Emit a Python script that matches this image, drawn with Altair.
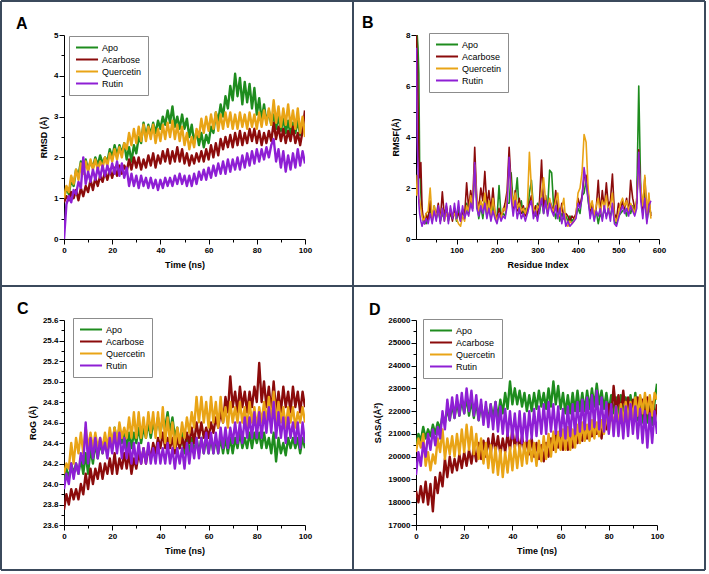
import altair as alt
import pandas as pd

FONT = "Liberation Sans"
SERIES = ["Apo", "Acarbose", "Quercetin", "Rutin"]
COLORS = ["#1e8c1e", "#8b0b0b", "#e9a416", "#8e1fd4"]
BORDER = "#3b4a5c"

# ---------------- tick values ----------------
time_ticks = [0, 10, 20, 30, 40, 50, 60, 70, 80, 90, 100]
residue_ticks = [50, 100, 150, 200, 250, 300, 350, 400, 450, 500, 550, 600]
rmsd_ticks = [0, 0.5, 1, 1.5, 2, 2.5, 3, 3.5, 4, 4.5, 5]
rmsf_ticks = [0, 1, 2, 3, 4, 5, 6, 7, 8]
rog_ticks = [23.6, 23.7, 23.8, 23.9, 24.0, 24.1, 24.2, 24.3, 24.4, 24.5, 24.6,
             24.7, 24.8, 24.9, 25.0, 25.1, 25.2, 25.3, 25.4, 25.5, 25.6]
sasa_ticks = [17000, 17500, 18000, 18500, 19000, 19500, 20000, 20500, 21000, 21500,
              22000, 22500, 23000, 23500, 24000, 24500, 25000, 25500, 26000]

# ---------------- A: RMSD ----------------
time_ns = list(range(0, 101))

rmsd_apo = [1.0, 1.25, 1.1, 1.45, 1.3, 1.7, 1.55, 1.9, 1.65, 1.95,
            1.7, 1.9, 1.75, 2.0, 1.8, 2.05, 1.85, 2.0, 1.9, 2.2,
            2.0, 2.3, 2.05, 2.3, 2.1, 2.35, 1.95, 2.25, 1.9, 2.3,
            2.1, 2.5, 2.35, 2.85, 2.5, 2.8, 2.55, 2.85, 2.6, 2.9,
            2.7, 3.0, 2.8, 3.15, 2.85, 3.25, 2.75, 3.0, 2.7, 3.05,
            2.7, 2.95, 2.5, 2.8, 2.35, 2.65, 2.3, 2.6, 2.25, 2.55,
            2.35, 2.75, 2.6, 3.1, 2.9, 3.3, 3.0, 3.5, 3.2, 3.75,
            3.4, 4.05, 3.5, 3.95, 3.3, 3.85, 3.35, 3.8, 3.2, 3.7,
            3.05, 3.45, 2.9, 3.3, 2.85, 3.15, 2.8, 3.05, 2.7, 3.0,
            2.65, 2.95, 2.6, 2.9, 2.55, 2.85, 2.6, 2.9, 2.55, 2.8,
            2.7]
rmsd_acarbose = [0.9, 1.05, 0.95, 1.15, 1.0, 1.2, 0.95, 1.25, 1.05, 1.3,
                 1.15, 1.45, 1.2, 1.5, 1.3, 1.55, 1.4, 1.65, 1.45, 1.7,
                 1.5, 1.75, 1.55, 1.8, 1.6, 1.8, 1.65, 1.95, 1.7, 2.0,
                 1.75, 2.0, 1.7, 1.95, 1.75, 2.05, 1.8, 2.1, 1.75, 2.05,
                 1.85, 2.15, 1.9, 2.2, 1.85, 2.15, 1.9, 2.25, 1.9, 2.2,
                 1.85, 2.1, 1.8, 2.05, 1.85, 2.1, 1.9, 2.15, 1.9, 2.2,
                 1.95, 2.3, 2.0, 2.35, 2.05, 2.45, 2.2, 2.5, 2.25, 2.55,
                 2.25, 2.6, 2.3, 2.65, 2.3, 2.6, 2.35, 2.7, 2.4, 2.7,
                 2.35, 2.65, 2.3, 2.6, 2.35, 2.65, 2.4, 2.85, 2.45, 2.75,
                 2.4, 2.7, 2.35, 2.65, 2.4, 2.75, 2.35, 2.6, 2.3, 2.65,
                 3.15]
rmsd_quercetin = [1.0, 1.3, 1.15, 1.55, 1.35, 1.7, 1.45, 1.85, 1.6, 1.9,
                  1.65, 1.95, 1.7, 1.95, 1.7, 1.9, 1.75, 2.0, 1.8, 2.1,
                  1.9, 2.2, 1.95, 2.25, 2.0, 2.35, 2.2, 2.6, 2.3, 2.7,
                  2.35, 2.75, 2.4, 2.8, 2.4, 2.75, 2.45, 2.8, 2.35, 2.7,
                  2.4, 2.8, 2.45, 2.85, 2.5, 2.9, 2.45, 2.8, 2.4, 2.75,
                  2.3, 2.6, 2.2, 2.5, 2.25, 2.7, 2.5, 2.95, 2.6, 3.0,
                  2.65, 3.05, 2.7, 3.1, 2.65, 3.05, 2.7, 3.1, 2.75, 3.1,
                  2.7, 3.05, 2.7, 3.1, 2.75, 3.05, 2.7, 3.1, 2.75, 3.05,
                  2.7, 3.1, 2.75, 3.15, 2.8, 3.2, 2.8, 3.4, 2.85, 3.25,
                  2.75, 3.2, 2.8, 3.3, 2.75, 3.15, 2.7, 3.2, 2.6, 3.0,
                  2.5]
rmsd_rutin = [0.0, 0.85, 1.05, 0.9, 1.2, 1.1, 1.4, 1.25, 2.0, 1.35,
              1.65, 1.4, 1.7, 1.45, 1.75, 1.5, 1.8, 1.55, 1.8, 1.6,
              1.85, 1.6, 1.9, 1.55, 1.85, 1.5, 1.75, 1.3, 1.6, 1.3,
              1.55, 1.25, 1.55, 1.3, 1.5, 1.25, 1.5, 1.25, 1.45, 1.2,
              1.45, 1.25, 1.5, 1.3, 1.5, 1.3, 1.55, 1.35, 1.6, 1.35,
              1.55, 1.3, 1.55, 1.3, 1.6, 1.35, 1.65, 1.45, 1.7, 1.45,
              1.75, 1.5, 1.8, 1.55, 1.85, 1.6, 1.9, 1.6, 1.95, 1.65,
              1.95, 1.7, 2.0, 1.7, 2.05, 1.75, 2.1, 1.8, 2.15, 1.85,
              2.2, 1.9, 2.2, 1.95, 2.25, 2.0, 2.3, 2.45, 1.9, 2.2,
              1.75, 2.15, 1.65, 2.05, 1.7, 2.1, 1.75, 2.2, 1.8, 2.15,
              1.85]

# ---------------- B: RMSF ----------------
residue_index = [1, 3, 5, 7, 9, 12, 15, 18, 21, 25,
                 30, 35, 40, 45, 50, 55, 60, 65, 70, 75,
                 80, 85, 90, 95, 100, 105, 110, 115, 120, 125,
                 130, 135, 140, 145, 150, 155, 160, 165, 170, 175,
                 180, 185, 190, 195, 200, 205, 210, 215, 220, 225,
                 230, 235, 240, 245, 250, 255, 260, 265, 270, 275,
                 280, 285, 290, 295, 300, 305, 310, 315, 320, 325,
                 330, 335, 340, 345, 350, 355, 360, 365, 370, 375,
                 380, 385, 390, 395, 400, 405, 410, 415, 420, 425,
                 430, 435, 440, 445, 450, 455, 460, 465, 470, 475,
                 480, 485, 490, 495, 500, 505, 510, 515, 520, 525,
                 530, 535, 540, 545, 550, 555, 560, 565, 570, 575,
                 580]
rmsf_apo = [7.9, 8.0, 7.5, 6.5, 3.0, 1.8, 1.0, 0.7, 0.8, 0.6,
            0.9, 1.2, 0.7, 1.3, 0.8, 1.1, 0.7, 1.0, 0.8, 1.2,
            0.7, 1.0, 0.8, 1.1, 0.7, 1.2, 0.8, 1.1, 0.9, 1.4,
            1.0, 1.5, 1.2, 2.6, 1.5, 0.8, 1.3, 0.8, 1.5, 0.9,
            1.4, 0.8, 1.3, 0.9, 0.8, 2.1, 0.9, 1.0, 0.9, 1.4,
            1.4, 2.6, 1.3, 1.6, 2.4, 1.0, 1.5, 0.9, 1.2, 1.0,
            1.8, 2.3, 1.2, 0.9, 1.4, 1.0, 1.6, 1.0, 1.4, 1.2,
            2.7, 2.6, 1.2, 0.8, 1.3, 0.7, 1.0, 0.8, 0.9, 0.7,
            0.9, 0.7, 0.8, 0.9, 1.2, 1.0, 1.7, 1.8, 2.3, 1.5,
            1.0, 1.3, 0.8, 1.1, 0.6, 1.0, 0.8, 1.2, 0.9, 1.1,
            0.9, 1.3, 0.7, 0.6, 0.9, 1.0, 1.1, 1.2, 0.9, 1.3,
            1.0, 1.3, 1.0, 1.5, 6.0, 1.8, 1.0, 1.8, 0.7, 1.2,
            1.0]
rmsf_acarbose = [8.0, 7.2, 5.3, 3.2, 2.4, 3.0, 1.2, 0.8, 0.6, 1.0,
                 0.7, 1.5, 0.8, 1.2, 0.9, 1.4, 0.7, 1.85, 0.9, 1.3,
                 0.8, 1.1, 0.7, 1.2, 0.9, 1.0, 0.7, 1.1, 0.9, 2.2,
                 1.2, 1.9, 1.4, 3.6, 1.6, 1.2, 2.0, 1.5, 2.65, 1.3,
                 1.9, 1.1, 2.0, 1.0, 0.8, 1.2, 0.9, 1.1, 1.4, 1.9,
                 3.6, 2.1, 1.2, 1.9, 1.1, 1.6, 1.0, 1.3, 0.9, 1.1,
                 1.4, 1.7, 1.0, 1.3, 0.9, 1.5, 3.1, 1.2, 1.7, 1.0,
                 1.5, 1.3, 1.0, 1.9, 1.1, 0.9, 1.4, 0.8, 1.0, 0.9,
                 0.7, 0.9, 0.8, 1.0, 1.6, 1.3, 1.7, 2.4, 2.5, 1.8,
                 1.1, 1.4, 0.9, 1.2, 2.3, 1.0, 1.9, 1.2, 2.2, 1.3,
                 1.5, 2.55, 1.0, 0.8, 1.4, 1.1, 1.5, 1.2, 1.6, 1.0,
                 2.3, 1.6, 1.2, 1.4, 3.5, 1.8, 1.2, 2.4, 1.0, 1.6,
                 0.9]
rmsf_quercetin = [1.7, 2.5, 1.8, 1.6, 1.5, 1.2, 0.9, 0.7, 0.8, 1.0,
                  1.1, 2.0, 0.8, 1.3, 0.9, 1.1, 0.8, 1.2, 0.7, 1.0,
                  0.8, 1.2, 0.9, 1.0, 0.8, 0.6, 0.5, 0.9, 0.7, 1.3,
                  1.1, 1.7, 1.3, 2.9, 1.6, 1.1, 1.5, 1.2, 1.8, 1.0,
                  1.5, 0.9, 1.6, 1.0, 0.7, 1.0, 0.8, 1.2, 1.1, 1.6,
                  2.9, 2.0, 1.3, 1.8, 1.2, 1.4, 1.1, 1.2, 1.0, 1.3,
                  3.4, 2.0, 1.2, 1.0, 1.3, 1.2, 1.8, 2.4, 1.5, 1.1,
                  1.6, 1.2, 1.1, 1.5, 1.8, 0.9, 1.2, 1.6, 0.6, 0.5,
                  0.7, 0.6, 0.7, 0.9, 1.8, 2.0, 2.6, 4.1, 3.8, 2.0,
                  1.2, 1.5, 0.9, 1.3, 1.6, 1.0, 1.5, 1.3, 1.7, 1.0,
                  1.3, 1.8, 0.8, 0.7, 1.0, 1.4, 1.6, 1.3, 1.5, 1.1,
                  1.4, 1.2, 1.0, 1.6, 2.8, 2.0, 1.3, 2.5, 1.0, 1.8,
                  0.8]
rmsf_rutin = [7.5, 3.8, 2.8, 1.4, 1.0, 0.7, 0.5, 0.7, 0.6, 0.8,
              0.6, 1.0, 0.6, 1.1, 0.7, 1.3, 0.6, 1.2, 0.7, 1.4,
              0.6, 1.3, 0.8, 1.4, 0.8, 1.5, 0.7, 1.3, 0.8, 1.1,
              0.9, 1.4, 1.1, 3.0, 1.2, 0.9, 1.3, 1.0, 1.4, 0.8,
              1.2, 0.7, 1.1, 0.8, 0.6, 1.0, 0.7, 0.9, 0.8, 1.3,
              3.2, 1.6, 0.9, 1.5, 0.8, 1.2, 0.8, 1.0, 0.7, 1.0,
              1.3, 1.5, 0.8, 1.1, 0.7, 1.2, 1.6, 1.0, 1.5, 0.9,
              1.4, 1.1, 0.9, 1.3, 0.8, 1.2, 0.6, 1.0, 0.5, 0.7,
              0.5, 0.6, 0.7, 0.8, 1.4, 1.2, 1.6, 2.8, 2.2, 1.6,
              0.8, 1.2, 0.7, 1.1, 0.9, 1.2, 0.7, 1.3, 0.8, 1.2,
              0.7, 1.4, 0.6, 0.5, 0.8, 1.1, 1.3, 1.0, 1.2, 0.9,
              1.3, 1.1, 0.9, 1.2, 3.4, 1.5, 0.8, 1.6, 0.6, 1.3,
              1.5]

# ---------------- C: RoG ----------------
rog_apo = [24.0, 24.15, 24.05, 24.2, 24.1, 24.2, 24.1, 24.25, 24.1, 24.3,
           24.1, 24.35, 24.2, 24.4, 24.25, 24.4, 24.3, 24.45, 24.3, 24.5,
           24.35, 24.55, 24.4, 24.55, 24.4, 24.5, 24.35, 24.5, 24.35, 24.5,
           24.4, 24.55, 24.4, 24.55, 24.45, 24.6, 24.45, 24.6, 24.5, 24.65,
           24.5, 24.65, 24.55, 24.7, 24.5, 24.65, 24.45, 24.55, 24.35, 24.5,
           24.3, 24.45, 24.3, 24.45, 24.3, 24.45, 24.3, 24.45, 24.3, 24.45,
           24.3, 24.45, 24.3, 24.45, 24.3, 24.45, 24.3, 24.45, 24.3, 24.45,
           24.3, 24.45, 24.35, 24.5, 24.35, 24.45, 24.35, 24.5, 24.35, 24.5,
           24.4, 24.5, 24.35, 24.5, 24.35, 24.45, 24.3, 24.5, 24.22, 24.45,
           24.3, 24.4, 24.28, 24.45, 24.35, 24.45, 24.35, 24.45, 24.3, 24.45,
           24.35]
rog_acarbose = [23.75, 23.9, 23.8, 23.95, 23.85, 23.95, 23.85, 24.0, 23.9, 24.1,
                23.95, 24.15, 24.0, 24.15, 24.05, 24.2, 24.05, 24.2, 24.1, 24.25,
                24.1, 24.3, 24.1, 24.25, 24.15, 24.3, 24.15, 24.3, 24.1, 24.25,
                24.15, 24.3, 24.2, 24.35, 24.2, 24.35, 24.25, 24.4, 24.3, 24.45,
                24.35, 24.5, 24.35, 24.45, 24.35, 24.45, 24.3, 24.45, 24.35, 24.45,
                24.35, 24.5, 24.4, 24.55, 24.4, 24.6, 24.45, 24.6, 24.45, 24.55,
                24.45, 24.6, 24.5, 24.65, 24.55, 24.7, 24.6, 24.85, 24.7, 25.05,
                24.75, 24.9, 24.7, 24.95, 24.75, 24.9, 24.7, 24.9, 24.75, 24.95,
                24.8, 25.18, 24.8, 25.0, 24.75, 24.95, 24.7, 25.0, 24.7, 24.9,
                24.7, 24.95, 24.75, 24.9, 24.7, 24.95, 24.75, 24.9, 24.7, 24.9,
                24.75]
rog_quercetin = [24.1, 24.2, 24.15, 24.4, 24.2, 24.45, 24.3, 24.5, 24.3, 24.55,
                 24.35, 24.5, 24.35, 24.5, 24.35, 24.45, 24.35, 24.5, 24.35, 24.55,
                 24.4, 24.55, 24.4, 24.6, 24.45, 24.55, 24.45, 24.65, 24.45, 24.7,
                 24.45, 24.7, 24.45, 24.65, 24.45, 24.7, 24.5, 24.7, 24.45, 24.7,
                 24.45, 24.75, 24.4, 24.65, 24.4, 24.6, 24.35, 24.55, 24.4, 24.6,
                 24.45, 24.65, 24.5, 24.7, 24.55, 24.85, 24.6, 24.85, 24.6, 24.8,
                 24.55, 24.85, 24.6, 24.8, 24.55, 24.85, 24.6, 24.75, 24.55, 24.8,
                 24.6, 24.75, 24.6, 24.8, 24.6, 24.75, 24.55, 24.8, 24.6, 24.75,
                 24.55, 24.75, 24.6, 24.8, 24.6, 24.85, 24.6, 24.9, 24.6, 24.8,
                 24.6, 24.75, 24.55, 24.75, 24.6, 24.75, 24.55, 24.7, 24.6, 24.75,
                 24.6]
rog_rutin = [23.95, 24.1, 24.0, 24.2, 24.05, 24.2, 24.1, 24.3, 24.2, 24.6,
             24.2, 24.45, 24.25, 24.45, 24.25, 24.45, 24.3, 24.4, 24.25, 24.45,
             24.3, 24.5, 24.3, 24.5, 24.25, 24.45, 24.25, 24.4, 24.2, 24.4,
             24.2, 24.4, 24.2, 24.35, 24.2, 24.4, 24.2, 24.35, 24.2, 24.4,
             24.2, 24.35, 24.2, 24.4, 24.2, 24.35, 24.15, 24.35, 24.2, 24.35,
             24.15, 24.4, 24.2, 24.4, 24.25, 24.45, 24.25, 24.45, 24.3, 24.5,
             24.3, 24.5, 24.3, 24.5, 24.3, 24.55, 24.35, 24.55, 24.35, 24.55,
             24.4, 24.6, 24.4, 24.6, 24.4, 24.65, 24.45, 24.65, 24.45, 24.7,
             24.45, 24.7, 24.45, 24.7, 24.5, 24.75, 24.5, 24.8, 24.45, 24.7,
             24.45, 24.65, 24.4, 24.65, 24.45, 24.6, 24.4, 24.6, 24.35, 24.6,
             24.4]

# ---------------- D: SASA ----------------
sasa_apo = [20500, 21000, 20700, 21300, 20800, 21200, 20900, 21400, 21000, 21500,
            21200, 21800, 21500, 22100, 21600, 22300, 21700, 22400, 21800, 22500,
            21900, 22600, 21800, 22500, 21700, 22400, 21600, 22300, 21600, 22200,
            21600, 22300, 21700, 22400, 21700, 22500, 21900, 22800, 22100, 23300,
            22300, 23000, 22300, 22900, 22200, 22800, 22000, 22700, 22000, 22800,
            22100, 22900, 22200, 22800, 22100, 23000, 22200, 23300, 22300, 23100,
            22100, 22800, 21900, 22700, 21900, 22800, 22000, 22900, 22000, 22800,
            22000, 22900, 22100, 23000, 22200, 23200, 22300, 22900, 22100, 22800,
            22000, 22700, 21900, 22600, 21800, 22700, 21800, 22600, 21700, 22700,
            21700, 22800, 21600, 22600, 21500, 22500, 21500, 22500, 21400, 22400,
            23200]
sasa_acarbose = [18500, 18000, 18700, 18000, 18900, 17900, 18800, 17600, 19100, 18400,
                 19300, 18700, 19900, 19100, 20000, 19300, 19900, 19400, 20100, 19500,
                 20200, 19600, 20300, 19700, 20400, 19800, 20600, 19900, 20700, 20000,
                 20800, 20100, 21000, 20200, 20900, 20100, 20800, 20200, 21000, 20300,
                 21200, 20400, 21000, 20300, 20900, 20200, 20700, 20100, 20800, 20000,
                 20600, 19900, 20500, 19800, 20600, 20000, 20800, 20300, 21000, 20400,
                 21000, 20300, 20900, 20300, 21000, 20400, 21100, 20600, 21200, 20700,
                 21300, 20800, 21400, 20900, 21500, 21000, 21600, 20800, 21800, 21200,
                 22300, 21600, 23100, 22000, 22700, 21800, 22900, 21900, 22600, 21800,
                 22500, 21700, 22600, 21600, 22500, 21500, 22600, 21600, 22400, 21500,
                 22300]
sasa_quercetin = [20200, 20800, 20400, 21000, 19600, 20200, 19400, 20100, 19700, 20800,
                  20200, 21200, 19900, 20800, 20100, 20900, 20000, 21000, 20100, 21200,
                  20200, 21400, 20300, 21300, 20100, 21000, 19900, 20800, 19700, 20600,
                  19500, 20500, 19300, 20400, 19200, 20300, 19100, 20200, 19300, 20400,
                  19400, 20500, 19500, 20500, 19600, 20600, 19700, 20700, 19800, 20600,
                  19600, 20700, 19800, 20900, 19900, 21000, 20000, 21100, 20200, 21100,
                  20300, 21200, 20300, 21300, 20300, 21200, 20400, 21400, 20600, 21500,
                  20700, 21400, 20700, 21600, 20800, 21500, 20900, 21600, 21000, 21900,
                  21100, 22100, 21300, 22200, 21400, 22300, 21500, 22400, 21600, 22400,
                  21700, 22600, 21800, 22700, 21900, 22800, 21900, 22700, 21800, 22800,
                  22500]
sasa_rutin = [19200, 20200, 19600, 20600, 20000, 21000, 20300, 21200, 20500, 21300,
              20800, 22000, 21200, 22500, 21600, 22600, 21700, 22700, 21800, 22800,
              21900, 23000, 22000, 22900, 21800, 22700, 21600, 22500, 21400, 22400,
              21300, 22300, 21200, 22400, 21100, 22200, 21000, 22100, 20900, 22000,
              20800, 21900, 20700, 22000, 20600, 21900, 20700, 22000, 20800, 22100,
              20900, 22200, 21000, 22300, 21000, 22400, 21100, 22300, 21000, 22200,
              20900, 22100, 20800, 22200, 20900, 22300, 21000, 22400, 21100, 22500,
              21200, 22600, 21200, 22700, 21300, 22900, 21200, 22600, 21100, 22400,
              21000, 22300, 20900, 22200, 20900, 22100, 20800, 22200, 20900, 22300,
              21000, 22200, 20800, 22100, 20600, 22000, 20400, 21900, 20600, 22000,
              21000]


def long_df(xs, lists):
    rows = []
    for name, vals in zip(SERIES, lists):
        for xv, yv in zip(xs, vals):
            rows.append({"x": xv, "y": yv, "series": name})
    return pd.DataFrame(rows)


def make_axis(values, major, label_expr, title, is_x):
    return alt.Axis(
        values=values, title=title, labelExpr=label_expr,
        tickSize={"condition": {"test": major, "value": 5}, "value": 3},
        labelFlush=False, labelOverlap=False, grid=False,
        domainColor="black", domainWidth=1, tickColor="black", tickWidth=1,
        labelColor="black", titleColor="black",
        labelFont=FONT, labelFontSize=8, labelFontWeight="bold",
        titleFont=FONT, titleFontSize=9, titleFontWeight="bold",
        labelPadding=2 if is_x else 1, titlePadding=6 if is_x else 5,
    )


TIME_MAJOR = "datum.value % 20 == 0"
time_axis = make_axis(time_ticks, TIME_MAJOR, f"{TIME_MAJOR} ? datum.label : ''", "Time (ns)", True)


def panel(df, xdom, ydom, xaxis, yaxis, legx, legy, w, h, letter, lx, ly, lw, extra=()):
    legend = alt.Legend(
        title=None, orient="none", legendX=legx, legendY=legy, direction="vertical",
        fillColor="white", strokeColor="#8c8c8c", padding=6,
        rowPadding=1, symbolType="M-1,0H3.9", symbolSize=81, symbolStrokeWidth=2,
        labelFont=FONT, labelFontSize=9, labelColor="black", labelOffset=16,
    )
    ex = alt.X("x:Q", scale=alt.Scale(domain=xdom, nice=False, zero=False), axis=xaxis)
    ey = alt.Y("y:Q", scale=alt.Scale(domain=ydom, nice=False, zero=False), axis=yaxis)
    ec = alt.Color("series:N", scale=alt.Scale(domain=SERIES, range=COLORS), legend=legend)
    layers = [
        alt.Chart(df).transform_filter(alt.datum.series == s)
        .mark_line(strokeWidth=lw, strokeJoin="round", clip=True)
        .encode(x=ex, y=ey, color=ec)
        for s in SERIES
    ]
    lab = alt.Chart(pd.DataFrame({"letter": [letter]})).mark_text(
        align="left", baseline="alphabetic", font=FONT, fontSize=16, fontWeight="bold", color="black"
    ).encode(x=alt.value(lx), y=alt.value(ly), text="letter:N")
    return alt.layer(*layers, lab, *extra).properties(width=w, height=h)


def border_rule(x1, x2, y1, y2):
    return alt.Chart(pd.DataFrame({"k": [0]})).mark_rule(color=BORDER, strokeWidth=2).encode(
        x=alt.value(x1), x2=alt.value(x2), y=alt.value(y1), y2=alt.value(y2)
    )


frame = [
    border_rule(-63, 641, -34, -34),
    border_rule(-63, 641, 535, 535),
    border_rule(-63, -63, -34, 535),
    border_rule(641, 641, -34, 535),
    border_rule(289, 289, -34, 535),
    border_rule(-63, 641, 251, 251),
]

# A
yA = make_axis(rmsd_ticks, "datum.value % 1 == 0",
               "datum.value % 1 == 0 ? format(datum.value, 'd') : ''", "RMSD (Å)", False)
pA = panel(long_df(time_ns, [rmsd_apo, rmsd_acarbose, rmsd_quercetin, rmsd_rutin]),
           [0, 100], [0, 5], time_axis, yA, 5, 1, 241, 204, "A", -48, -6, 2.4, frame)

# B
xB = make_axis(residue_ticks, "datum.value % 100 == 0",
               "datum.value % 100 == 0 ? datum.label : ''", "Residue Index", True)
yB = make_axis(rmsf_ticks, "datum.value % 2 == 0",
               "datum.value % 2 == 0 ? format(datum.value, 'd') : ''", "RMSF(Å)", False)
pB = panel(long_df(residue_index, [rmsf_apo, rmsf_acarbose, rmsf_quercetin, rmsf_rutin]),
           [0, 600], [0, 8], xB, yB, 13, -2, 243, 204, "B", -54, -7, 1.6)

# C
yC = make_axis(rog_ticks, "round(datum.value * 10) % 2 == 0",
               "round(datum.value * 10) % 2 == 0 ? format(datum.value, '.1f') : ''", "RoG (Å)", False)
pC = panel(long_df(time_ns, [rog_apo, rog_acarbose, rog_quercetin, rog_rutin]),
           [0, 100], [23.6, 25.6], time_axis, yC, 9, -2, 241, 205, "C", -47, -6, 2.4)

# D
yD = make_axis(sasa_ticks, "datum.value % 1000 == 0",
               "datum.value % 1000 == 0 ? format(datum.value, 'd') : ''", "SASA(Å²)", False)
pD = panel(long_df(time_ns, [sasa_apo, sasa_acarbose, sasa_quercetin, sasa_rutin]),
           [0, 100], [17000, 26000], time_axis, yD, 7, -1, 241, 205, "D", -47, -5, 2.4)

chart = (
    alt.concat(pA, pB, pC, pD, columns=2, spacing={"row": 81, "column": 111}, bounds="flush")
    .resolve_scale(color="independent")
    .properties(padding=0, background="white")
    .configure_view(stroke=None)
)

chart.save("out.html", embed_options={"renderer": "svg", "actions": False})
